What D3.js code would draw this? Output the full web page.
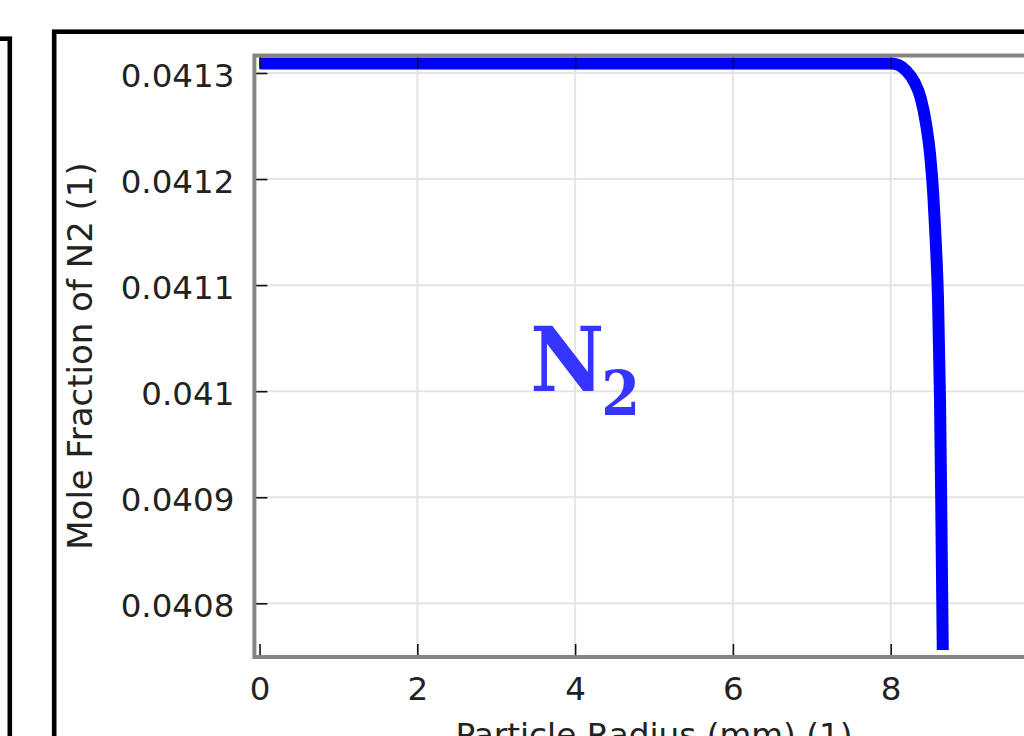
<!DOCTYPE html>
<html>
<head>
<meta charset="utf-8">
<script src="https://cdn.jsdelivr.net/npm/d3@7"></script>
<style>
  html, body { margin: 0; padding: 0; background: #fff; overflow: hidden; }
  svg { display: block; }
</style>
</head>
<body>
<svg id="chart" width="1024" height="736"></svg>
<script>
// Particle radius (mm) and mole fraction of N2 along the radius
const radius = [0, 1, 2, 3, 4, 5, 6, 7, 7.5, 7.9, 8.0, 8.1, 8.2, 8.3, 8.38, 8.45, 8.5, 8.54, 8.57, 8.6, 8.625, 8.64, 8.66];
const moleFractionN2 = [0.041309, 0.041309, 0.041309, 0.041309, 0.041309, 0.041309, 0.041309, 0.041309, 0.041309, 0.041309,
  0.0413090, 0.0413075, 0.0413019, 0.0412915, 0.0412764, 0.0412510, 0.0412227, 0.0411850, 0.0411425, 0.0410860,
  0.0409917, 0.0408974, 0.0407560];

const xTicks = [0, 2, 4, 6, 8];
const yTicks = [0.0408, 0.0409, 0.041, 0.0411, 0.0412, 0.0413];
const yTickLabels = ["0.0408", "0.0409", "0.041", "0.0411", "0.0412", "0.0413"];

const xTitle = "Particle Radius (mm) (1)";
const yTitle = "Mole Fraction of N2 (1)";

const svg = d3.select("#chart");

// panel frames
svg.append("rect")
  .attr("x", -100).attr("y", 38.7).attr("width", 109.8).attr("height", 1000)
  .attr("fill", "none").attr("stroke", "#000").attr("stroke-width", 4.6);
svg.append("rect")
  .attr("x", 54.2).attr("y", 31.7).attr("width", 2000).attr("height", 2000)
  .attr("fill", "none").attr("stroke", "#000").attr("stroke-width", 4.6);

// plot area
const plot = { left: 254.4, right: 1048.5, top: 55.5, bottom: 657 };

const x = d3.scaleLinear().domain([-0.065, 10]).range([plot.left, plot.right]);
const y = d3.scaleLinear().domain([0.0407494, 0.0413165]).range([plot.bottom, plot.top]);

svg.append("clipPath").attr("id", "clip")
  .append("rect")
  .attr("x", plot.left).attr("y", plot.top)
  .attr("width", plot.right - plot.left).attr("height", plot.bottom - plot.top);

// grid
const grid = svg.append("g").attr("stroke", "#e4e4e4").attr("stroke-width", 2);
grid.selectAll("line.v").data(xTicks.filter(d => d > 0)).join("line")
  .attr("x1", d => x(d)).attr("x2", d => x(d))
  .attr("y1", plot.top).attr("y2", plot.bottom);
grid.selectAll("line.h").data(yTicks).join("line")
  .attr("y1", d => y(d)).attr("y2", d => y(d))
  .attr("x1", plot.left).attr("x2", plot.right);

// data line
const line = d3.line()
  .x((d, i) => x(radius[i]))
  .y(d => y(d))
  .curve(d3.curveMonotoneX);

svg.append("path")
  .datum(moleFractionN2)
  .attr("clip-path", "url(#clip)")
  .attr("fill", "none")
  .attr("stroke", "#0000ff")
  .attr("stroke-width", 12)
  .attr("stroke-linejoin", "round")
  .attr("stroke-linecap", "butt")
  .attr("d", line);

// axes (ticks pointing inward on all sides)
const tickLen = 13;
const axisBottom = d3.axisBottom(x).tickValues(xTicks).tickSize(-tickLen).tickPadding(tickLen + 10)
  .tickFormat(d3.format("d"));
const axisTop = d3.axisTop(x).tickValues(xTicks).tickSize(-tickLen).tickFormat("");
const axisLeft = d3.axisLeft(y).tickValues(yTicks).tickSize(-tickLen).tickPadding(tickLen + 7)
  .tickFormat((d, i) => yTickLabels[i]);

function styleAxis(g) {
  g.select(".domain").remove();
  g.selectAll(".tick line").attr("stroke", "#111").attr("stroke-width", 1.6);
  g.selectAll(".tick text")
    .attr("fill", "#222")
    .style("font-family", "'DejaVu Sans', sans-serif")
    .style("font-size", "32.5px");
}

svg.append("g").attr("transform", `translate(0,${plot.bottom})`).call(axisBottom).call(styleAxis)
  .selectAll(".tick text").attr("dy", "0.71em").attr("y", 20);
svg.append("g").attr("transform", `translate(0,${plot.top})`).call(axisTop).call(styleAxis);
svg.append("g").attr("transform", `translate(${plot.left},0)`).call(axisLeft).call(styleAxis)
  .selectAll(".tick text").attr("dy", "0.42em");

// axis frame
svg.append("rect")
  .attr("x", plot.left).attr("y", plot.top)
  .attr("width", plot.right - plot.left).attr("height", plot.bottom - plot.top)
  .attr("fill", "none").attr("stroke", "#858585").attr("stroke-width", 4);

// axis titles
svg.append("text")
  .attr("x", 654).attr("y", 746)
  .attr("text-anchor", "middle")
  .attr("fill", "#222")
  .style("font-family", "'DejaVu Sans', sans-serif")
  .style("font-size", "32.7px")
  .text(xTitle);

svg.append("text")
  .attr("transform", "translate(92.3,356) rotate(-90)")
  .attr("text-anchor", "middle")
  .attr("fill", "#222")
  .style("font-family", "'DejaVu Sans', sans-serif")
  .style("font-size", "34px")
  .text(yTitle);

// species label
const label = svg.append("text")
  .attr("y", y(0.0410))
  .attr("fill", "#3535ff")
  .style("font-family", "'DejaVu Serif Condensed', 'DejaVu Serif', serif")
  .style("font-stretch", "condensed")
  .style("font-weight", "bold");
label.append("tspan").attr("x", x(3.43)).style("font-size", "90px").text("N");
label.append("tspan").attr("x", x(4.33)).attr("dy", 24).style("font-size", "62px").text("2");
</script>
</body>
</html>
